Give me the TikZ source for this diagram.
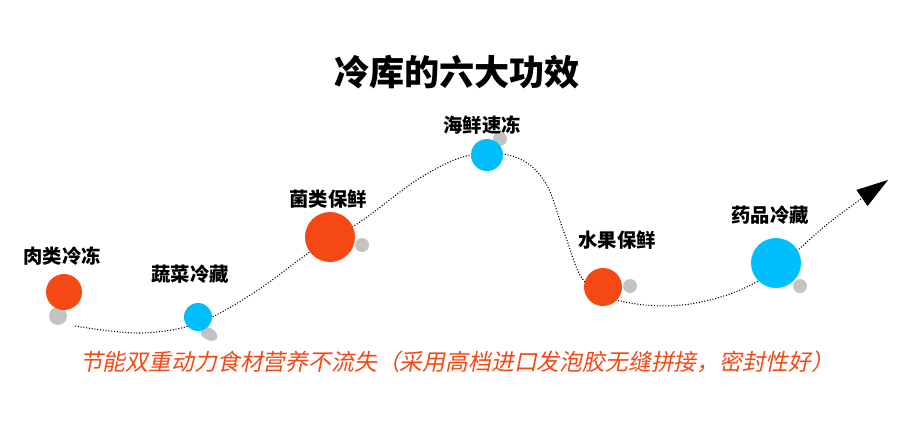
\documentclass[tikz,border=0pt]{standalone}
\usepackage{fontspec}
\newfontfamily\cjk{Noto Sans CJK SC}
\newfontfamily\cjkslant[FakeSlant=0.2]{Noto Sans CJK SC}
\usetikzlibrary{arrows.meta}
\definecolor{dotred}{RGB}{245,72,20}
\definecolor{dotblue}{RGB}{0,190,250}
\definecolor{dotgrey}{RGB}{195,195,195}
\tikzset{
  lbl/.style={font=\cjk\bfseries\fontsize{11}{13}\selectfont},
  grey/.style={fill=dotgrey},
}
\begin{document}
\begin{tikzpicture}[x=0.02cm,y=-0.02cm]
\useasboundingbox (0,0) rectangle (910,433);
\node[font=\cjk\bfseries\fontsize{20}{24}\selectfont] (title) at (457,72) {冷库的六大功效};
% dotted path
\draw[densely dotted,line width=0.6pt,-{Triangle[length=18pt,width=11pt]}] plot[smooth,tension=0.6] coordinates {
  (75,326) (140,333) (198,323) (255,292) (310,252) (360,222) (420,178) (470,155)
  (515,157) (545,182) (565,235) (585,282) (625,302) (690,304) (760,280) (830,222) (888,180)};
% dots
\fill[grey] (58,316) circle (9);
\fill[dotred] (64,292) circle (18);
\fill[grey,rotate around={-30:(209,334)}] (209,334) ellipse (9 and 6);
\fill[dotblue] (198,317) circle (14);
\fill[grey] (362,245) circle (7);
\fill[dotred] (330,237) circle (25);
\fill[grey] (500,139) circle (7);
\fill[dotblue] (487,155) circle (16);
\fill[grey] (630,286) circle (7);
\fill[dotred] (603,287) circle (19);
\fill[grey] (800,286) circle (7);
\fill[dotblue] (776,263) circle (25);
% labels
\node[lbl] (l1) at (62,256) {肉类冷冻};
\node[lbl] (l2) at (190,274) {蔬菜冷藏};
\node[lbl] (l3) at (328,199) {菌类保鲜};
\node[lbl] (l4) at (482,125) {海鲜速冻};
\node[lbl] (l5) at (617,240) {水果保鲜};
\node[lbl] (l6) at (770,215) {药品冷藏};
\node[text=dotred,font=\cjkslant\fontsize{13}{15}\selectfont] (note) at (457,362)
  {节能双重动力食材营养不流失（采用高档进口发泡胶无缝拼接，密封性好）};
\end{tikzpicture}
\end{document}
